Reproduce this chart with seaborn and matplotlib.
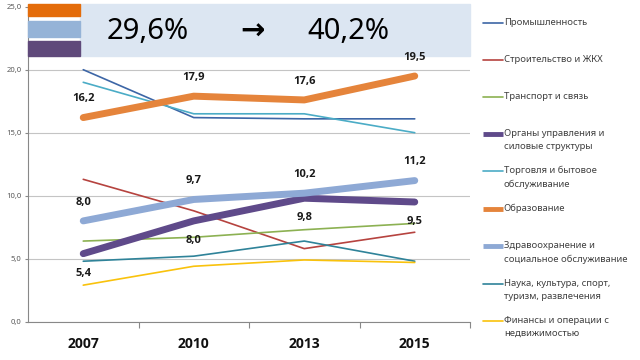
import pandas as pd
import matplotlib.pyplot as plt
import seaborn as sns
from matplotlib.patches import Rectangle
from matplotlib.ticker import FuncFormatter, FixedLocator

# данные по отраслям (доля, %)
years = ['2007', '2010', '2013', '2015']
industry = [20.0, 16.2, 16.1, 16.1]
construction = [11.3, 8.8, 5.8, 7.1]
transport = [6.4, 6.7, 7.3, 7.8]
government = [5.4, 8.0, 9.8, 9.5]
trade = [19.0, 16.5, 16.5, 15.0]
education = [16.2, 17.9, 17.6, 19.5]
health = [8.0, 9.7, 10.2, 11.2]
science = [4.8, 5.2, 6.4, 4.8]
finance = [2.9, 4.4, 4.9, 4.7]

series = [
    ('Промышленность', industry, '#3D66A6', 1.2),
    ('Строительство и ЖКХ', construction, '#B6433F', 1.2),
    ('Транспорт и связь', transport, '#8CB152', 1.2),
    ('Органы управления и\nсиловые структуры', government, '#5F4A8A', 5.0),
    ('Торговля и бытовое\nобслуживание', trade, '#4BACC6', 1.2),
    ('Образование', education, '#E5843B', 5.0),
    ('Здравоохранение и\nсоциальное обслуживание', health, '#8EA9D5', 5.0),
    ('Наука, культура, спорт,\nтуризм, развлечения', science, '#2F8399', 1.2),
    ('Финансы и операции с\nнедвижимостью', finance, '#F9C20C', 1.2),
]

share_from = '29,6%'
share_to = '40,2%'

sns.set_theme(style='white')
plt.rcParams['font.family'] = ['Noto Sans', 'DejaVu Sans']
bold_font = ['Open Sans', 'DejaVu Sans']

fig = plt.figure(figsize=(6.4, 3.6), dpi=100)
ax = fig.add_axes([28 / 640, 1 - 321.7 / 360, 442 / 640, 315 / 360])

for name, vals, color, lw in series:
    df = pd.DataFrame({'year': years, 'value': vals})
    sns.lineplot(data=df, x='year', y='value', ax=ax, color=color,
                 linewidth=lw, label=name, sort=False, zorder=3)

# подписи значений
for vals, dy, va in [(education, 9.5, 'bottom'), (health, 9.5, 'bottom'),
                     (government, -10, 'top')]:
    for i, v in enumerate(vals):
        ax.annotate(f'{v:.1f}'.replace('.', ','), (i, v), xytext=(0, dy),
                    textcoords='offset points', ha='center', va=va,
                    fontsize=8, fontweight='bold', family=bold_font,
                    color='#1a1a1a', zorder=5)

ax.set_xlim(-0.5, 3.5)
ax.set_ylim(0, 25)
ax.set_yticks([0, 5, 10, 15, 20, 25])
ax.yaxis.set_major_formatter(FuncFormatter(lambda v, p: f'{v:.1f}'.replace('.', ',')))
ax.tick_params(axis='y', labelsize=5.5, labelcolor='#595959', length=2.5,
               width=0.8, color='#888888', pad=2, left=True)
ax.xaxis.set_minor_locator(FixedLocator([0.5, 1.5, 2.5, 3.5]))
ax.tick_params(axis='x', which='major', length=0, pad=11, labelsize=10)
ax.tick_params(axis='x', which='minor', length=4, width=0.8, color='#888888', bottom=True)
for lbl in ax.get_xticklabels():
    lbl.set_fontweight('bold')
    lbl.set_family(bold_font)
    lbl.set_color('#111111')
ax.set_xlabel('')
ax.set_ylabel('')
ax.grid(axis='y', color='#C4C4C4', linewidth=0.8)
ax.set_axisbelow(True)
for s in ['top', 'right']:
    ax.spines[s].set_visible(False)
for s in ['left', 'bottom']:
    ax.spines[s].set_color('#888888')
    ax.spines[s].set_linewidth(0.8)

# плашка с долей
tr = ax.get_yaxis_transform()
ax.add_patch(Rectangle((0.118, 21.1), 0.882, 4.15, transform=tr, color='#DCE6F2',
                       zorder=4, clip_on=False))
ax.add_patch(Rectangle((0, 24.3), 0.118, 0.95, transform=tr, color='#E46C0A',
                       zorder=4, clip_on=False))
ax.add_patch(Rectangle((0, 22.6), 0.118, 1.25, transform=tr, color='#95B3D7',
                       zorder=4, clip_on=False))
ax.add_patch(Rectangle((0, 21.1), 0.118, 1.15, transform=tr, color='#5F497A',
                       zorder=4, clip_on=False))
ax.text(0.271, 23.0, share_from, transform=tr, ha='center', va='center',
        fontsize=21, color='black', zorder=5)
ax.text(0.507, 23.0, '→', transform=tr, ha='center', va='center',
        fontsize=21, fontweight='bold', color='black', zorder=5,
        family=['DejaVu Sans'])
ax.text(0.724, 23.0, share_to, transform=tr, ha='center', va='center',
        fontsize=21, color='black', zorder=5)

# легенда справа
handles, labels = ax.get_legend_handles_labels()
labels = ['\n' + l + ('' if '\n' in l else '\n ') for l in labels]
leg = ax.legend(handles, labels, loc='upper left', bbox_to_anchor=(483 / 640, 1 - 5 / 360),
                bbox_transform=fig.transFigure, frameon=False, fontsize=6.8,
                labelspacing=0.25, handlelength=2.1, handletextpad=0.1, borderpad=0,
                borderaxespad=0, labelcolor='#404040')
for t in leg.get_texts():
    t.set_linespacing(1.55)
for h in leg.legend_handles:
    if h.get_linewidth() > 3:
        h.set_linewidth(3.5)
        h.set_solid_capstyle('butt')

fig.savefig('out.png', dpi=100)
